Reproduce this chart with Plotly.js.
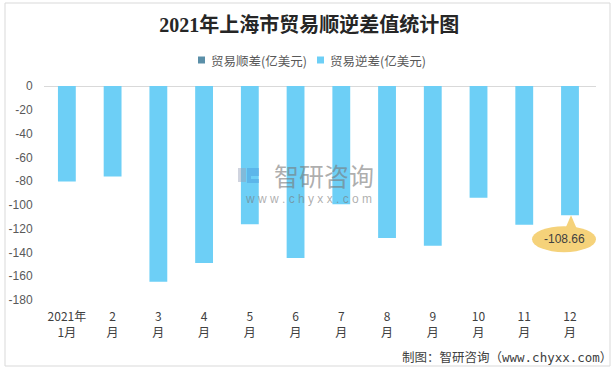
<!DOCTYPE html>
<html>
<head>
<meta charset="utf-8">
<script src="https://cdn.plot.ly/plotly-3.0.1.min.js"></script>
<style>
html,body{margin:0;padding:0;background:#fff;}
#chart{width:615px;height:369px;}
</style>
</head>
<body>
<div id="chart"></div>
<script>
const categories = ["2021年<br>1月","2<br>月","3<br>月","4<br>月","5<br>月","6<br>月","7<br>月","8<br>月","9<br>月","10<br>月","11<br>月","12<br>月"];
const surplusValues = [null,null,null,null,null,null,null,null,null,null,null,null];
const deficitValues = [-80.4,-76.2,-164.6,-148.9,-116.2,-144.6,-99.5,-127.9,-134.4,-94.1,-116.8,-108.66];
const seriesNames = ["贸易顺差(亿美元)","贸易逆差(亿美元)"];
const seriesColors = ["#5B8FA8","#6DCFF6"];
const yTicks = [0,-20,-40,-60,-80,-100,-120,-140,-160,-180];
const calloutIndex = 11;

const cjk = "Noto Sans CJK SC, sans-serif";
const labelColor = "#595959";

const traces = [
  {type:"bar", x:categories, y:surplusValues, name:seriesNames[0], marker:{color:seriesColors[0]}, width:0.39, showlegend:false},
  {type:"bar", x:categories, y:deficitValues, name:seriesNames[1], marker:{color:seriesColors[1]}, width:0.39, showlegend:false}
];

const cx = categories[calloutIndex], cy = deficitValues[calloutIndex];

// pixel -> paper helpers (plot area: x 44..596, y 86..300)
const px = v => (v-44)/552;
const py = v => 1-(v-86)/214;

const legendX = [198, 317];
const legendShapes = seriesColors.map((c,i)=>({type:"rect", xref:"paper", yref:"paper",
  x0:px(legendX[i]), x1:px(legendX[i]+7), y0:py(63.5), y1:py(56.5), fillcolor:c, line:{width:0}}));
const legendTexts = seriesNames.map((n,i)=>({xref:"paper", yref:"paper", x:px(legendX[i]+11), xanchor:"left",
  y:py(60), yanchor:"middle", showarrow:false, text:n, font:{family:cjk, size:12.5, color:labelColor}}));

const layout = {
  width:615, height:369,
  margin:{l:44, r:19, t:86, b:69},
  paper_bgcolor:"#fff", plot_bgcolor:"#fff",
  barmode:"overlay",
  showlegend:false,
  title:{text:"2021年上海市贸易顺逆差值统计图", xref:"container", x:0.503, yref:"container", y:0.932, yanchor:"middle", xanchor:"center",
         font:{family:"Liberation Serif, Noto Sans CJK SC, serif", size:20, color:"#262626", weight:"bold"}},
  xaxis:{type:"category", showgrid:false, zeroline:false, showline:false,
         ticks:"outside", ticklen:6, tickcolor:"rgba(0,0,0,0)",
         tickfont:{family:cjk, size:12, color:"#404040"}, fixedrange:true},
  yaxis:{range:[-180,0], tickvals:yTicks, ticktext:yTicks.map(String), showgrid:false,
         zeroline:true, zerolinecolor:"#d9d9d9", zerolinewidth:1, showline:false,
         ticks:"outside", ticklen:8, tickcolor:"rgba(0,0,0,0)",
         tickfont:{family:"Liberation Sans, Noto Sans CJK SC, sans-serif", size:12, color:labelColor}, fixedrange:true},
  shapes:[
    {type:"rect", xref:"paper", yref:"paper", layer:"below",
     x0:px(5), x1:px(610), y0:py(366), y1:py(3), line:{color:"#d9d9d9", width:1}, fillcolor:"rgba(0,0,0,0)"},
    // watermark icon
    {type:"rect", xref:"paper", yref:"paper", layer:"above", x0:px(238), x1:px(246), y0:py(182), y1:py(168),
     fillcolor:"rgba(150,160,185,0.45)", line:{width:0}},
    {type:"path", xref:"paper", yref:"paper", layer:"above",
     path:"M "+px(247)+","+py(168)+" L "+px(259)+","+py(168)+" L "+px(259)+","+py(176)+" L "+px(251)+","+py(176)+" L "+px(251)+","+py(179)+" L "+px(259)+","+py(179)+" L "+px(259)+","+py(183)+" L "+px(247)+","+py(183)+" Z",
     fillcolor:"rgba(70,150,220,0.45)", line:{width:0}},
    // callout bubble
    {type:"path", xref:"x", yref:"y", xsizemode:"pixel", ysizemode:"pixel", xanchor:cx, yanchor:cy, layer:"above",
     path:"M -5,-14 L 7,-14 L 1,0 Z", fillcolor:"#F5D27A", line:{width:0}},
    {type:"circle", xref:"x", yref:"y", xsizemode:"pixel", ysizemode:"pixel", xanchor:cx, yanchor:cy, layer:"above",
     x0:-38, x1:26, y0:-11, y1:-37, fillcolor:"#F5D27A", line:{width:0}}
  ].concat(legendShapes),
  annotations:[
    {xref:"x", yref:"y", x:cx, y:cy, xshift:-6, yshift:-24, showarrow:false, text:String(deficitValues[calloutIndex]),
     font:{family:"Liberation Sans, sans-serif", size:12, color:"#404040"}},
    {xref:"paper", yref:"paper", x:px(324), y:py(175), showarrow:false, text:"智研咨询",
     font:{family:cjk, size:25, color:"rgba(120,120,120,0.6)"}},
    {xref:"paper", yref:"paper", x:px(308), y:py(199), showarrow:false, text:"w w w . c h y x x . c o m",
     font:{family:"Liberation Sans, sans-serif", size:12, color:"rgba(120,120,120,0.6)"}},
    {xref:"paper", yref:"paper", x:px(614), xanchor:"right", y:py(357), yanchor:"middle", showarrow:false,
     text:"制图：智研咨询（www.chyxx.com）",
     font:{family:"DejaVu Sans Mono, Noto Sans CJK SC, monospace", size:12.5, color:"#404040"}}
  ].concat(legendTexts)
};

Plotly.newPlot("chart", traces, layout, {displayModeBar:false, staticPlot:true});
</script>
</body>
</html>
